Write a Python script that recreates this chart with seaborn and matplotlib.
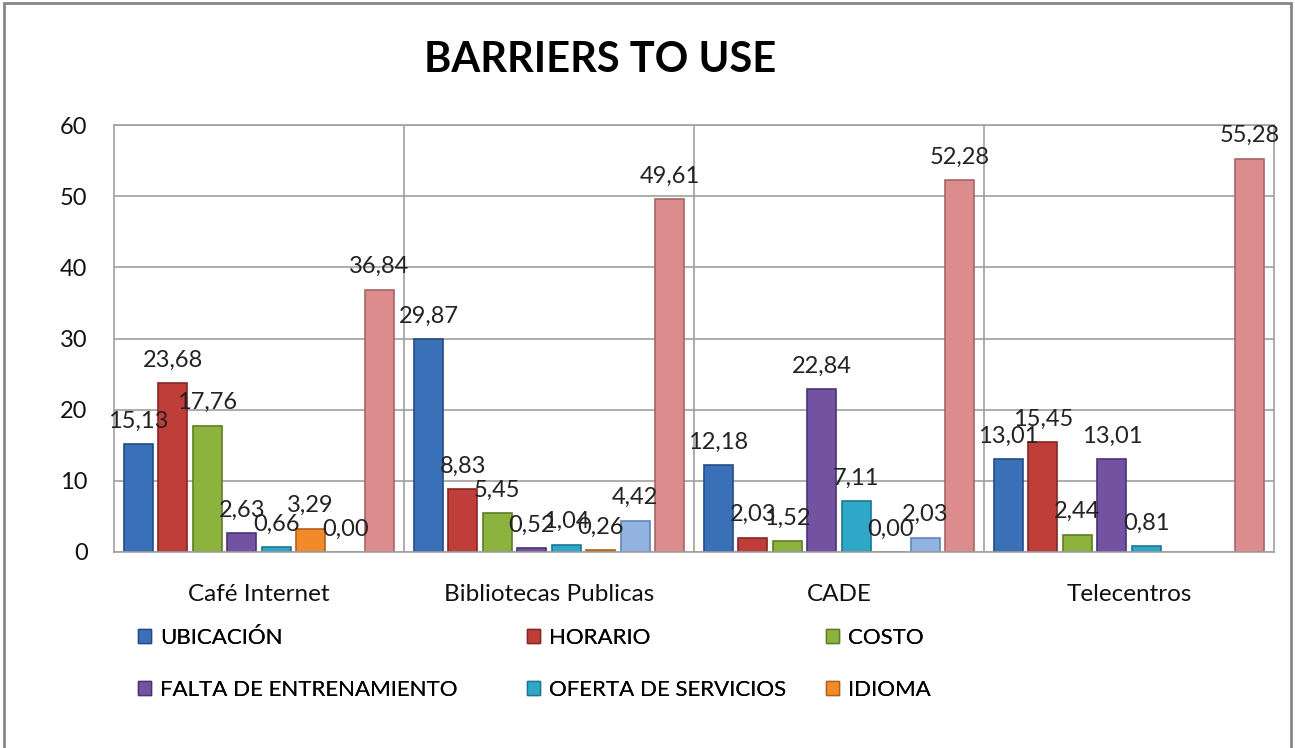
import matplotlib
matplotlib.use("Agg")
import matplotlib.pyplot as plt
import seaborn as sns
import pandas as pd
import numpy as np
from matplotlib.patches import Rectangle, Patch
from matplotlib.ticker import MultipleLocator, FixedLocator

categories = ["Café Internet", "Bibliotecas Publicas", "CADE", "Telecentros"]
series = ["UBICACIÓN", "HORARIO", "COSTO", "FALTA DE ENTRENAMIENTO",
          "OFERTA DE SERVICIOS", "IDIOMA", "Serie 7", "Serie 8"]

ubicacion = [15.13, 29.87, 12.18, 13.01]
horario = [23.68, 8.83, 2.03, 15.45]
costo = [17.76, 5.45, 1.52, 2.44]
falta_entrenamiento = [2.63, 0.52, 22.84, 13.01]
oferta_servicios = [0.66, 1.04, 7.11, 0.81]
idioma = [3.29, 0.26, 0.00, np.nan]
serie7 = [0.00, 4.42, 2.03, np.nan]
serie8 = [36.84, 49.61, 52.28, 55.28]

values = [ubicacion, horario, costo, falta_entrenamiento,
          oferta_servicios, idioma, serie7, serie8]

colors = ["#3A70B8", "#C03E3A", "#8DB33F", "#7352A2",
          "#2FA8C8", "#F08A2A", "#92B2E0", "#DC8C8C"]
edges = ["#244C85", "#862624", "#5E7D25", "#4C3375",
         "#1E7792", "#B3601A", "#6585B5", "#A86565"]

rows = []
for s, vals in zip(series, values):
    for c, v in zip(categories, vals):
        rows.append({"categoria": c, "serie": s, "valor": v})
df = pd.DataFrame(rows).dropna()

FONT = "Lato"
plt.rcParams["font.family"] = [FONT, "DejaVu Sans"]

fig = plt.figure(figsize=(12.95, 7.48), dpi=100)
ax = fig.add_axes([114/1295, 1-552/748, (1274-114)/1295, (552-125)/748])

sns.barplot(data=df, x="categoria", y="valor", hue="serie",
            order=categories, hue_order=series,
            palette=dict(zip(series, colors)), saturation=1,
            width=0.95, gap=0.16, ax=ax, legend=False,
            edgecolor="none", linewidth=0)

for cont, ec in zip(ax.containers, edges):
    for bar in cont:
        bar.set_edgecolor(ec)
        bar.set_linewidth(1.2)
    ax.bar_label(cont, fmt=lambda v: f"{v:.2f}".replace(".", ","),
                 padding=9, fontsize=17, color="#222222")

ax.set_ylim(0, 60)
ax.set_xlim(-0.5, 3.5)
ax.yaxis.set_major_locator(MultipleLocator(10))
ax.xaxis.set_minor_locator(FixedLocator([0.5, 1.5, 2.5]))
ax.set_axisbelow(True)
ax.grid(axis="y", which="major", color="#A0A0A0", linewidth=1.2)
ax.grid(axis="x", which="minor", color="#A0A0A0", linewidth=1.2)
ax.grid(axis="x", which="major", visible=False)
ax.tick_params(axis="both", which="both", length=0)
ax.tick_params(axis="y", pad=19, labelsize=17, labelcolor="#111111")
ax.tick_params(axis="x", pad=23, labelsize=17.5, labelcolor="#111111")
ax.set_xlabel("")
ax.set_ylabel("")
for sp in ax.spines.values():
    sp.set_color("#A0A0A0")
    sp.set_linewidth(1.2)

fig.text(600/1295, 1-60/748, "BARRIERS TO USE", ha="center", va="center",
         fontsize=30, fontweight="bold", color="black")

legend_cols = [[0, 3], [1, 4], [2, 5]]
legend_x = [138, 527, 826]
for idxs, lx in zip(legend_cols, legend_x):
    handles = [Patch(facecolor=colors[i], edgecolor=edges[i], linewidth=1) for i in idxs]
    labels = [series[i] for i in idxs]
    leg = fig.legend(handles, labels, ncol=1, loc="upper left",
                     bbox_to_anchor=(lx/1295, 1-628/748), frameon=False,
                     fontsize=16, handlelength=0.6, handleheight=0.6,
                     handletextpad=0.4, labelspacing=1.45,
                     borderaxespad=0, borderpad=0)
    fig.add_artist(leg)

fig.patches.append(Rectangle((4/1295, -0.02), (1291-4)/1295, 1.02-3/748,
                             transform=fig.transFigure, fill=False,
                             edgecolor="#868686", linewidth=2))

fig.savefig("out.png", dpi=100)
